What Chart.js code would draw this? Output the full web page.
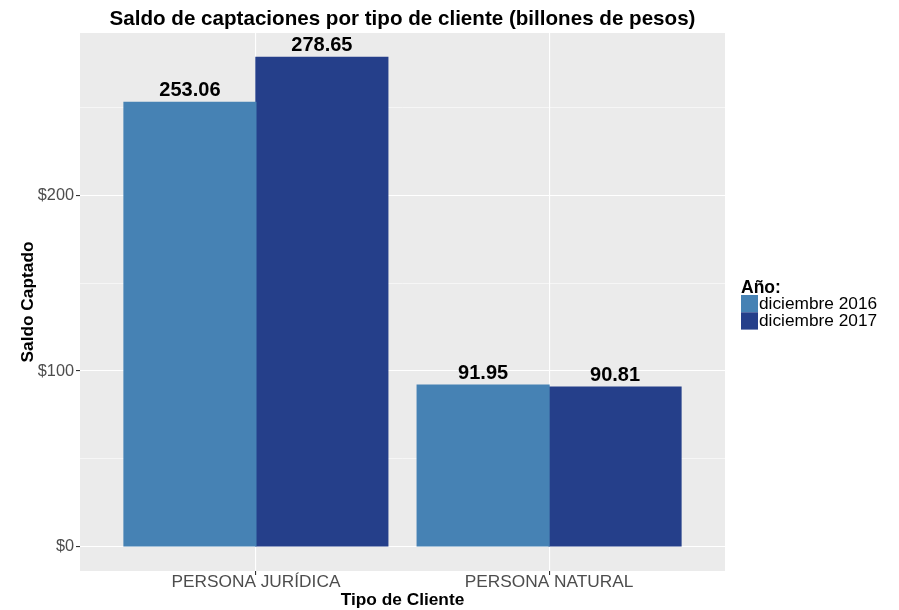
<!DOCTYPE html>
<html>
<head>
<meta charset="utf-8">
<script src="https://cdn.jsdelivr.net/npm/chart.js@4.4.1/dist/chart.umd.min.js"></script>
<style>
  html, body { margin: 0; padding: 0; background: #ffffff; }
  #wrap { width: 899px; height: 610px; position: relative; }
</style>
</head>
<body>
<div id="wrap"><canvas id="c" width="899" height="610"></canvas></div>
<script>
const categories = ['PERSONA JURÍDICA', 'PERSONA NATURAL'];
const seriesNames = ['diciembre 2016', 'diciembre 2017'];
const values2016 = [253.06, 91.95];
const values2017 = [278.65, 90.81];
const yTickLabels = {0: '$0', 100: '$100', 200: '$200'};
const chartTitle = 'Saldo de captaciones por tipo de cliente (billones de pesos)';
const legendTitle = 'Año:';
const xTitle = 'Tipo de Cliente';
const yTitle = 'Saldo Captado';

const colors = ['#4682B4', '#253F8A'];
const FONT = '"Liberation Sans", Arial, Helvetica, sans-serif';

const toPoints = arr => arr.map((v, i) => ({x: i + 1, y: v}));

const panelBg = {
  id: 'panelBg',
  beforeDraw(chart) {
    const {ctx, chartArea: a} = chart;
    ctx.save();
    ctx.fillStyle = '#EBEBEB';
    ctx.fillRect(a.left, a.top, a.right - a.left, a.bottom - a.top);
    ctx.restore();
  }
};

const extras = {
  id: 'extras',
  afterDatasetsDraw(chart) {
    const {ctx, chartArea: a} = chart;
    ctx.save();
    // value labels
    ctx.fillStyle = '#000';
    ctx.font = 'bold 20px ' + FONT;
    ctx.textAlign = 'center';
    ctx.textBaseline = 'alphabetic';
    chart.data.datasets.forEach((ds, di) => {
      chart.getDatasetMeta(di).data.forEach((bar, i) => {
        ctx.fillText(ds.data[i].y.toFixed(2), bar.x, bar.y - 6);
      });
    });
    // title
    ctx.font = 'bold 20.6px ' + FONT;
    ctx.fillText(chartTitle, (a.left + a.right) / 2, 25);
    // legend
    ctx.textAlign = 'left';
    ctx.font = 'bold 17.5px ' + FONT;
    ctx.fillText(legendTitle, 741, 293);
    ctx.font = '17.3px ' + FONT;
    seriesNames.forEach((n, i) => {
      const y0 = 295 + i * 17.3;
      ctx.fillStyle = colors[i];
      ctx.fillRect(741, y0, 17, 17.3);
      ctx.fillStyle = '#000';
      ctx.fillText(n, 759, y0 + 14);
    });
    ctx.restore();
  }
};

new Chart(document.getElementById('c'), {
  type: 'bar',
  data: {
    datasets: [
      {label: seriesNames[0], data: toPoints(values2016), backgroundColor: colors[0]},
      {label: seriesNames[1], data: toPoints(values2017), backgroundColor: colors[1]}
    ]
  },
  options: {
    responsive: false,
    animation: false,
    devicePixelRatio: 1,
    layout: {padding: {left: 0, right: 174, top: 33, bottom: 0}},
    datasets: {bar: {categoryPercentage: 0.9, barPercentage: 1.0, borderWidth: 0, inflateAmount: 0.6}},
    plugins: {legend: {display: false}, tooltip: {enabled: false}, title: {display: false}},
    scales: {
      x: {
        type: 'linear',
        offset: false,
        min: 0.4, max: 2.6,
        afterFit(s) { s.height = 39; },
        afterBuildTicks(s) { s.ticks = categories.map((c, i) => ({value: i + 1})); },
        ticks: {
          callback: v => categories[v - 1] || '',
          color: '#4D4D4D',
          font: {family: FONT, size: 17.3},
          padding: -3,
          maxRotation: 0,
          autoSkip: false
        },
        grid: {offset: false, color: '#FFFFFF', lineWidth: 1.1, tickColor: '#333333', tickLength: 4, drawTicks: true},
        border: {display: false},
        title: {display: true, text: xTitle, color: '#000', font: {family: FONT, size: 17.3, weight: 'bold'}, padding: {top: 0, bottom: -1}}
      },
      y: {
        type: 'linear',
        min: -13.93, max: 292.58,
        afterFit(s) { s.width = 80; },
        afterBuildTicks(s) { s.ticks = [0, 50, 100, 150, 200, 250].map(v => ({value: v})); },
        ticks: {
          callback: v => yTickLabels[v] !== undefined ? yTickLabels[v] : '',
          color: '#4D4D4D',
          font: {family: FONT, size: 16.3},
          padding: 2,
          autoSkip: false
        },
        grid: {
          color: '#FFFFFF',
          lineWidth: c => (c.tick && c.tick.value % 100 === 0) ? 1.1 : 0.55,
          tickColor: c => (c.tick && c.tick.value % 100 === 0) ? '#333333' : 'rgba(0,0,0,0)',
          tickLength: 4
        },
        border: {display: false},
        title: {display: true, text: yTitle, color: '#000', font: {family: FONT, size: 17.3, weight: 'bold'}, padding: {top: 18, bottom: 0}}
      }
    }
  },
  plugins: [panelBg, extras]
});
</script>
</body>
</html>
